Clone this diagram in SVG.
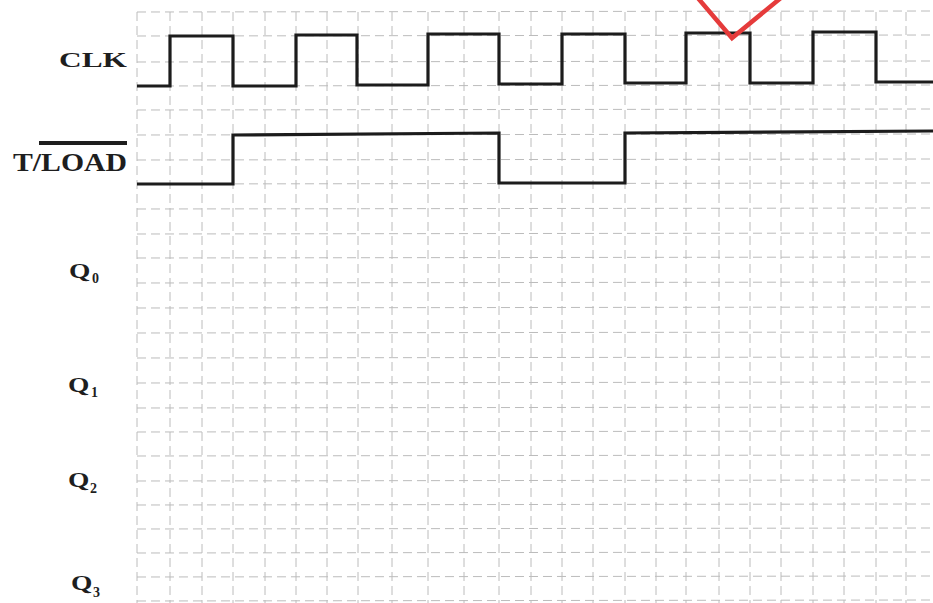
<svg xmlns="http://www.w3.org/2000/svg" width="933" height="603" viewBox="0 0 933 603">
<style>
.grid line{stroke:#bcbcbc;stroke-width:1;stroke-dasharray:9 5;fill:none}
.wave{fill:none;stroke:#1c1c1c;stroke-width:3.2;stroke-linejoin:miter}
.lbl{font-family:"Liberation Serif","Times New Roman",serif;font-weight:bold;fill:#1e1e1e}
</style>
<rect width="933" height="603" fill="#ffffff"/>
<g id="grid" class="grid">
<line x1="137" y1="12" x2="137" y2="603"/>
<line x1="170" y1="12" x2="170" y2="603"/>
<line x1="202" y1="12" x2="202" y2="603"/>
<line x1="233" y1="12" x2="233" y2="603"/>
<line x1="265" y1="12" x2="265" y2="603"/>
<line x1="296" y1="12" x2="296" y2="603"/>
<line x1="327" y1="12" x2="327" y2="603"/>
<line x1="358" y1="12" x2="358" y2="603"/>
<line x1="392" y1="12" x2="392" y2="603"/>
<line x1="428" y1="12" x2="428" y2="603"/>
<line x1="464" y1="12" x2="464" y2="603"/>
<line x1="499" y1="12" x2="499" y2="603"/>
<line x1="531" y1="12" x2="531" y2="603"/>
<line x1="562" y1="12" x2="562" y2="603"/>
<line x1="593" y1="12" x2="593" y2="603"/>
<line x1="625" y1="12" x2="625" y2="603"/>
<line x1="656" y1="12" x2="656" y2="603"/>
<line x1="686" y1="12" x2="686" y2="603"/>
<line x1="719" y1="12" x2="719" y2="603"/>
<line x1="750" y1="12" x2="750" y2="603"/>
<line x1="781" y1="12" x2="781" y2="603"/>
<line x1="813" y1="12" x2="813" y2="603"/>
<line x1="844" y1="12" x2="844" y2="603"/>
<line x1="876" y1="12" x2="876" y2="603"/>
<line x1="906" y1="12" x2="906" y2="603"/>
<line x1="137" y1="12" x2="933" y2="11"/>
<line x1="137" y1="36" x2="933" y2="35"/>
<line x1="137" y1="62" x2="933" y2="61"/>
<line x1="137" y1="86" x2="933" y2="85"/>
<line x1="137" y1="110" x2="933" y2="109"/>
<line x1="137" y1="135" x2="933" y2="134"/>
<line x1="137" y1="160" x2="933" y2="159"/>
<line x1="137" y1="184" x2="933" y2="183"/>
<line x1="137" y1="209" x2="933" y2="208"/>
<line x1="137" y1="234" x2="933" y2="233"/>
<line x1="137" y1="258" x2="933" y2="257"/>
<line x1="137" y1="283" x2="933" y2="282"/>
<line x1="137" y1="308" x2="933" y2="307"/>
<line x1="137" y1="333" x2="933" y2="332"/>
<line x1="137" y1="358" x2="933" y2="357"/>
<line x1="137" y1="383" x2="933" y2="382"/>
<line x1="137" y1="408" x2="933" y2="407"/>
<line x1="137" y1="432" x2="933" y2="431"/>
<line x1="137" y1="456" x2="933" y2="455"/>
<line x1="137" y1="481" x2="933" y2="480"/>
<line x1="137" y1="505" x2="933" y2="504"/>
<line x1="137" y1="529" x2="933" y2="528"/>
<line x1="137" y1="553" x2="933" y2="552"/>
<line x1="137" y1="577" x2="933" y2="576"/>
<line x1="137" y1="601" x2="933" y2="600"/>
</g>
<g id="connectors">
<path id="clk-wave" class="wave" d="M137,86 H170 V36 H233 V86 H296 V35 H357 V85 H428 V34 H499 V84 H562 V34 H625 V83 H686 V33 H750 V83 H813 V32 H876 V82 H933"/>
<path id="tload-wave" class="wave" d="M137,184 H233 V135 L499,133 V183 H625 V133 L933,131"/>
</g>
<g id="label-clk">
<text class="lbl" x="59" y="67" font-size="22" textLength="68" lengthAdjust="spacingAndGlyphs">CLK</text>
</g>
<g id="label-tload">
<rect x="39" y="141" width="88" height="4" fill="#1e1e1e"/>
<text class="lbl" x="13" y="171" font-size="25" textLength="114" lengthAdjust="spacingAndGlyphs">T/LOAD</text>
</g>
<g id="label-q0">
<text class="lbl" transform="translate(69,278) scale(1.25,1)" font-size="22">Q</text>
<text class="lbl" x="92" y="283" font-size="14">0</text>
</g>
<g id="label-q1">
<text class="lbl" transform="translate(68,392) scale(1.25,1)" font-size="22">Q</text>
<text class="lbl" x="91" y="397" font-size="14">1</text>
</g>
<g id="label-q2">
<text class="lbl" transform="translate(68,487) scale(1.25,1)" font-size="22">Q</text>
<text class="lbl" x="90" y="493" font-size="14">2</text>
</g>
<g id="label-q3">
<text class="lbl" transform="translate(71,590) scale(1.25,1)" font-size="22">Q</text>
<text class="lbl" x="93" y="597" font-size="14">3</text>
</g>
<g id="red-mark">
<polyline points="697,-3 732,38 782,-3" fill="none" stroke="#e53b3b" stroke-width="4.5" stroke-linejoin="miter"/>
</g>
</svg>
